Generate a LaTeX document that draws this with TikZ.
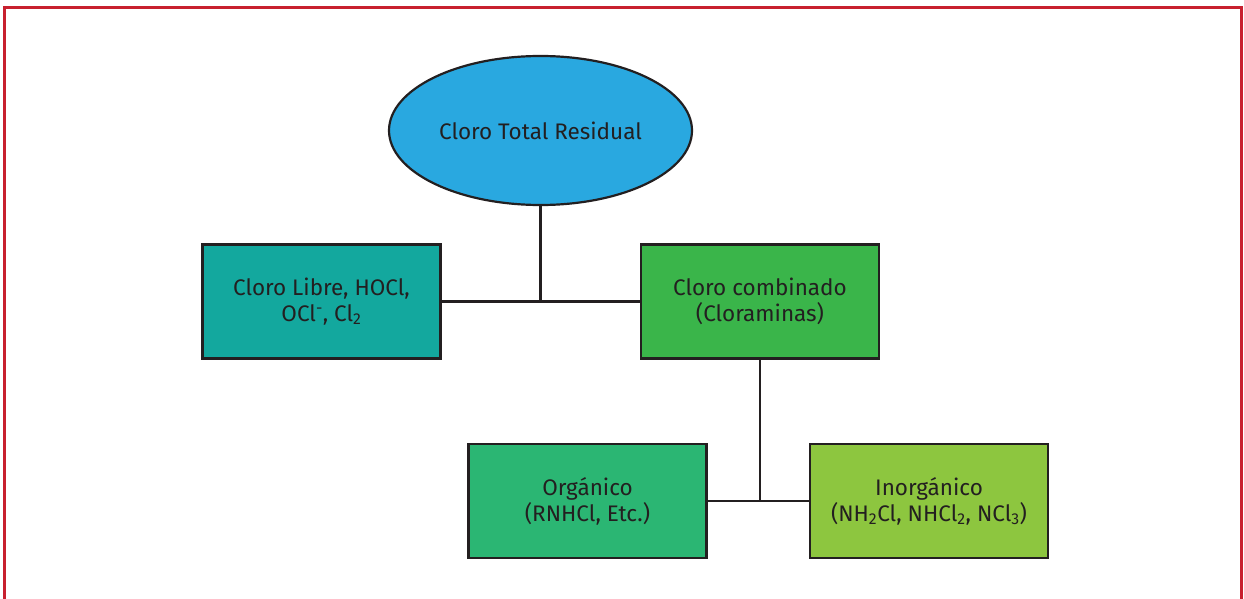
\documentclass[tikz,border=0pt]{standalone}
\usepackage{fontspec}
\setmainfont{Fira Sans}
\usetikzlibrary{shapes.geometric}
\definecolor{frame}{HTML}{C8202F}
\definecolor{ink}{HTML}{231F20}
\definecolor{cblue}{HTML}{29A8E0}
\definecolor{cteal}{HTML}{13A89E}
\definecolor{cgreen}{HTML}{3AB54A}
\definecolor{cmint}{HTML}{2BB673}
\definecolor{clime}{HTML}{8DC63F}
\tikzset{
  lbl/.style={text=ink, font=\fontsize{22.5}{26}\selectfont},
  box/.style={lbl, draw=ink, line width=2.4pt, minimum width=238pt, minimum height=114pt,
    align=center, inner sep=0pt},
  link/.style={draw=ink, line width=2.2pt},
}
\begin{document}
\begin{tikzpicture}[x=1pt,y=-1pt]
\useasboundingbox (0,0) rectangle (1244,599);
\draw[frame, line width=2.6pt] (4.5,599) -- (4.5,7.5) -- (1241.5,7.5) -- (1241.5,599);
\node[lbl, ellipse, draw=ink, line width=2.2pt, fill=cblue, minimum width=303pt, minimum height=149pt,
  inner sep=0pt] (total) at (540.5,130.5) {Cloro Total Residual};
\node[box, fill=cteal] (libre) at (321.5,301.5) {Cloro Libre, HOCl,\\OCl\textsuperscript{-}, Cl\textsubscript{2}};
\node[box, fill=cgreen] (comb) at (760,301.5) {Cloro combinado\\(Cloraminas)};
\node[box, fill=cmint] (org) at (587.5,501) {Orgánico\\(RNHCl, Etc.)};
\node[box, fill=clime] (inorg) at (929,501) {Inorgánico\\(NH\textsubscript{2}Cl, NHCl\textsubscript{2}, NCl\textsubscript{3})};
\coordinate (j1) at (total.south |- libre.east);
\coordinate (j2) at (comb.south |- org.east);
\draw[link] (total.south) -- (j1);
\draw[link] (libre.east) -- (comb.west);
\draw[link] (comb.south) -- (j2);
\draw[link] (org.east) -- (inorg.west);
\end{tikzpicture}
\end{document}
